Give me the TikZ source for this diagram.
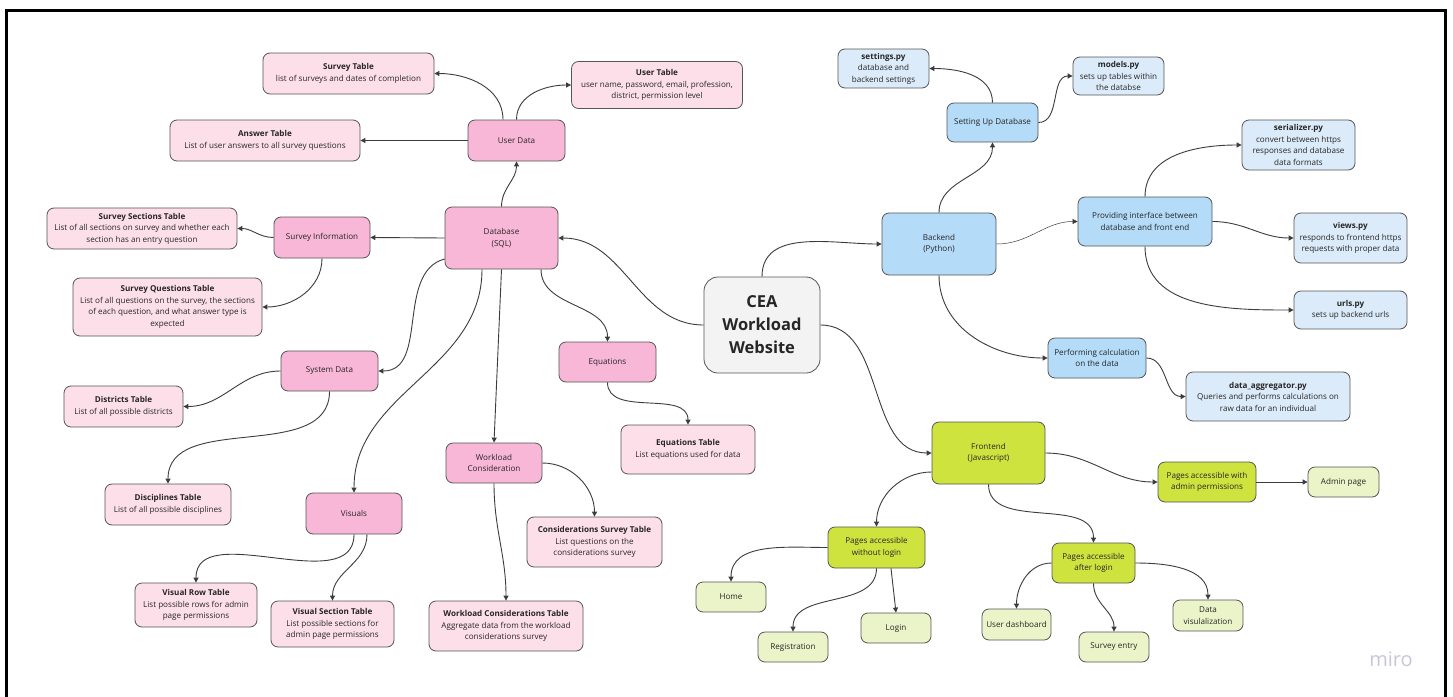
\documentclass[tikz,border=0pt]{standalone}
\usepackage{fontspec}
\setmainfont{Open Sans}
\usetikzlibrary{arrows.meta}
\definecolor{pinkD}{HTML}{F8B7D7}
\definecolor{pinkL}{HTML}{FDDFEA}
\definecolor{blueD}{HTML}{B4DBF8}
\definecolor{blueL}{HTML}{DCEBF9}
\definecolor{greenD}{HTML}{CFE33F}
\definecolor{greenL}{HTML}{EBF4C8}
\definecolor{grayC}{HTML}{F3F3F3}
\definecolor{edgeC}{HTML}{555555}
\definecolor{lineC}{HTML}{3C3C3C}
\definecolor{txtC}{HTML}{262626}
\definecolor{miroC}{HTML}{C9C5D8}
\newcommand\smallsz{\fontsize{8.1}{11.5}\selectfont}
\newcommand\bigsz{\fontsize{16.5}{23}\selectfont}
\begin{document}
\begin{tikzpicture}[x=1pt,y=-1pt,
 box/.style={draw=edgeC, line width=0.8pt, rounded corners=7pt, align=center, font=\smallsz, inner sep=1pt, text=txtC},
 wh/.style 2 args={minimum width=#1pt, minimum height=#2pt},
 pd/.style={box, fill=pinkD},
 pl/.style={box, fill=pinkL},
 bd/.style={box, fill=blueD},
 bl/.style={box, fill=blueL},
 gd/.style={box, fill=greenD},
 gl/.style={box, fill=greenL},
 centre/.style={box, fill=grayC, rounded corners=14pt, font=\bigsz\bfseries},
 conn/.style={draw=lineC, line width=0.9pt, -{Triangle[length=5pt,width=5pt]}},
 thin/.style={conn, line width=0.5pt},
]
\useasboundingbox (0,0) rectangle (1453,696);
\clip (0,0) rectangle (1453,696);
\fill[white] (0,0) rectangle (1453,696);
\draw[black, line width=3pt] (6.5,710) -- (6.5,10.5) -- (1445.5,10.5) -- (1445.5,710);

% centre
\node[centre, wh={116}{96}] (cea) at (762,325) {CEA\\Workload\\Website};

% database side
\node[pd, wh={113}{62}] (db) at (501.5,238) {Database\\(SQL)};
\node[pd, wh={97}{41}] (ud) at (516.5,140.5) {User Data};
\node[pl, wh={171}{41}] (st) at (348.5,73.5) {\textbf{Survey Table}\\list of surveys and dates of completion};
\node[pl, wh={171}{47}] (ut) at (657,85) {\textbf{User Table}\\user name, password, email, profession,\\district, permission level};
\node[pl, wh={190}{41}] (at) at (265,140.5) {\textbf{Answer Table}\\List of user answers to all survey questions};
\node[pd, wh={96}{41}] (si) at (322,237.5) {Survey Information};
\node[pl, wh={190}{41}] (ss) at (142,228.5) {\textbf{Survey Sections Table}\\List of all sections on survey and whether each\\section has an entry question};
\node[pl, wh={189}{58}] (sq) at (167.5,307) {\textbf{Survey Questions Table}\\List of all questions on the survey, the sections\\of each question, and what answer type is\\expected};
\node[pd, wh={97}{40}] (sd) at (329.5,371) {System Data};
\node[pl, wh={119}{41}] (dt) at (123.5,406.5) {\textbf{Districts Table}\\List of all possible districts};
\node[pl, wh={126}{41}] (disc) at (168,504.5) {\textbf{Disciplines Table}\\List of all possible disciplines};
\node[pd, wh={96}{41}] (vis) at (354,513.5) {Visuals};
\node[pl, wh={122}{44}] (vrt) at (196,605) {\textbf{Visual Row Table}\\List possible rows for admin\\page permissions};
\node[pl, wh={123}{46}] (vst) at (332.5,624) {\textbf{Visual Section Table}\\List possible sections for\\admin page permissions};
\node[pd, wh={96}{40}] (wc) at (494,463) {Workload\\Consideration};
\node[pl, wh={135}{50}] (cs) at (594.5,542) {\textbf{Considerations Survey Table}\\List questions on the\\considerations survey};
\node[pl, wh={154}{50}] (wct) at (506,626) {\textbf{Workload Considerations Table}\\Aggregate data from the workload\\considerations survey};
\node[pd, wh={97}{40}] (eq) at (607.5,362) {Equations};
\node[pl, wh={134}{49}] (eqt) at (688,449.5) {\textbf{Equations Table}\\List equations used for data};

% backend side
\node[bd, wh={114}{62}] (be) at (939,244) {Backend\\(Python)};
\node[bd, wh={91}{39}] (sud) at (992.5,122.5) {Setting Up Database};
\node[bl, wh={91}{39}] (set) at (883.5,68.5) {\textbf{settings.py}\\database and\\backend settings};
\node[bl, wh={91}{38}] (mod) at (1118.5,76) {\textbf{models.py}\\sets up tables within\\the databse};
\node[bd, wh={134}{49}] (pi) at (1145,221.5) {Providing interface between\\database and front end};
\node[bl, wh={113}{50}] (ser) at (1298.5,145) {\textbf{serializer.py}\\convert between https\\responses and database\\data formats};
\node[bl, wh={113}{50}] (vw) at (1350.5,238) {\textbf{views.py}\\responds to frontend https\\requests with proper data};
\node[bl, wh={113}{38}] (url) at (1350.5,310) {\textbf{urls.py}\\sets up backend urls};
\node[bd, wh={98}{40}] (pc) at (1097,358) {Performing calculation\\on the data};
\node[bl, wh={164}{49}] (da) at (1268,396.5) {\textbf{data\_aggregator.py}\\Queries and performs calculations on\\raw data for an individual};

% frontend side
\node[gd, wh={113}{62}] (fe) at (988.5,453) {Frontend\\(Javascript)};
\node[gd, wh={98}{40}] (pa) at (1207,482) {Pages accessible with\\admin permissions};
\node[gl, wh={71}{30}] (adm) at (1343.5,482) {Admin page};
\node[gd, wh={97}{41}] (pw) at (876.5,547.5) {Pages accessible\\without login};
\node[gl, wh={70}{30}] (home) at (731,597) {Home};
\node[gl, wh={70}{30}] (reg) at (793,647) {Registration};
\node[gl, wh={70}{30}] (log) at (896,628) {Login};
\node[gd, wh={83}{40}] (pal) at (1093.5,563) {Pages accessible\\after login};
\node[gl, wh={69}{31}] (udash) at (1016.5,624.5) {User dashboard};
\node[gl, wh={70}{30}] (se) at (1114,647) {Survey entry};
\node[gl, wh={70}{31}] (dv) at (1208,615.5) {Data\\visulalization};

\node[text=miroC, font=\fontsize{20}{20}\selectfont, inner sep=0pt] (miro) at (1391,659) {miro};

% connectors: centre
\draw[conn] (cea.west) to[out=180,in=0] (db.east);
\draw[conn] (cea.north) to[out=90,in=180] (be.west);
\draw[conn] (cea.east) to[out=0,in=180] (fe.west);

% database
\draw[conn] (db.north) to[out=90,in=-90] (ud.south);
\draw[conn] ([xshift=-13.5pt]ud.north) to[out=90,in=0] (st.east);
\draw[conn] (ud.north) to[out=90,in=180] (ut.west);
\draw[conn] (ud.west) -- (at.east);
\draw[conn] (db.west) -- (si.east);
\draw[conn] (si.west) to[out=180,in=0] (ss.east);
\draw[conn] (si.south) to[out=-90,in=0] (sq.east);
\draw[conn] ([yshift=-21pt]db.west) to[out=195,in=0] (sd.east);
\draw[conn] (sd.west) to[out=180,in=0] (dt.east);
\draw[conn] (sd.south) to[out=-90,in=90] (disc.north);
\draw[conn] ([xshift=-19.5pt]db.south) to[out=-90,in=90] (vis.north);
\draw[conn] (db.south) -- (wc.north);
\draw[conn] ([xshift=39.5pt]db.south) to[out=-90,in=90] (eq.north);
\draw[conn] (eq.south) to[out=-90,in=90] (eqt.north);
\draw[conn] (wc.east) to[out=0,in=90] (cs.north);
\draw[conn] (wc.south) to[out=-90,in=90] (wct.north);
\draw[conn] (vis.south) to[out=-90,in=90] (vrt.north);
\draw[conn] ([xshift=13pt]vis.south) to[out=-90,in=90] (vst.north);

% backend
\draw[conn] (be.north) to[out=90,in=-90] (sud.south);
\draw[conn] (sud.north) to[out=90,in=0] (set.east);
\draw[conn] (sud.east) to[out=0,in=180] (mod.west);
\draw[thin] (be.east) to[out=0,in=180] (pi.west);
\draw[conn] (pi.north) to[out=90,in=180] (ser.west);
\draw[conn] (pi.east) to[out=0,in=180] (vw.west);
\draw[conn] (pi.south) to[out=-90,in=180] (url.west);
\draw[conn] (be.south) to[out=-90,in=180] (pc.west);
\draw[conn] (pc.east) to[out=0,in=180] (da.west);

% frontend
\draw[conn] (fe.east) to[out=0,in=180] (pa.west);
\draw[conn] (pa.east) -- (adm.west);
\draw[conn] ([yshift=-19pt]fe.west) to[out=180,in=90] (pw.north);
\draw[conn] (fe.south) to[out=-90,in=90] (pal.north);
\draw[conn] (pw.west) to[out=180,in=90] (home.north);
\draw[conn] (pw.south) to[out=-90,in=90] (reg.north);
\draw[conn] ([xshift=14.5pt]pw.south) -- (log.north);
\draw[conn] (pal.west) to[out=180,in=90] (udash.north);
\draw[conn] (pal.south) to[out=-90,in=90] (se.north);
\draw[conn] (pal.east) to[out=0,in=90] (dv.north);
\end{tikzpicture}
\end{document}
